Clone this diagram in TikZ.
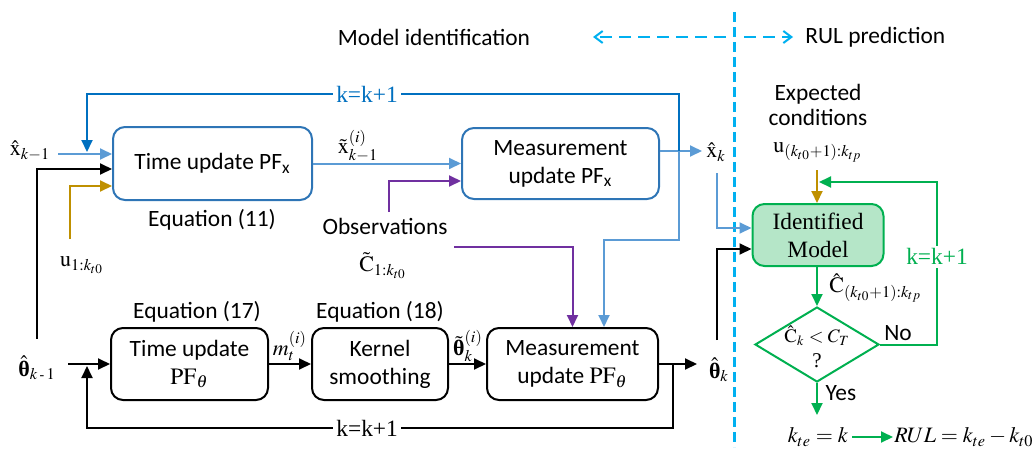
\documentclass[tikz,border=0pt]{standalone}
\usepackage{mathptmx}
\usepackage{fontspec}
\setmainfont{Liberation Serif}
\setsansfont{Carlito}
\usetikzlibrary{arrows.meta,shapes.geometric,calc}
\definecolor{cyanline}{RGB}{0,176,240}
\definecolor{dblue}{RGB}{0,112,192}
\definecolor{lblue}{RGB}{91,155,213}
\definecolor{boxblue}{RGB}{46,117,182}
\definecolor{gold}{RGB}{191,144,0}
\definecolor{obsviolet}{RGB}{112,48,160}
\definecolor{okgreen}{RGB}{0,176,80}
\definecolor{modelfill}{RGB}{181,230,200}
\newcommand{\bth}{\mbox{\normalfont\bfseries θ}}
\newcommand{\kmone}{k\mbox{\scriptsize\,-\,}1}

\begin{document}
\begin{tikzpicture}[x=0.5pt,y=-0.5pt,
  every node/.append style={inner sep=1pt},
  font=\fontsize{11.7}{14}\selectfont,
  sf/.style={font=\sffamily\fontsize{11.7}{14}\selectfont},
  ml/.style={font=\fontsize{11}{13}\selectfont, inner sep=0.5pt},
  box/.style={draw, line width=1pt, rounded corners=6pt, align=center, inner sep=0pt, sf},
  arr/.style={-{Triangle[length=6pt,width=5.5pt]}, line width=1pt},
  barb/.style={cyanline, line width=1pt, dash pattern=on 6pt off 3.5pt,
               -{Straight Barb[length=4pt,width=6pt]}},
  gap/.style={fill=white, inner sep=1.5pt},
]
\useasboundingbox (0,0) rectangle (1035,450);

% divider between the two stages
\draw[cyanline, line width=1.5pt, dash pattern=on 5pt off 2.5pt] (734,12) -- (734,447);

% stage titles
\node[sf] (mid) at (434,37) {Model identification};
\node[sf, anchor=west] (rulp) at (803,37) {RUL prediction};
\coordinate (dL0) at (726,37); \coordinate (dL1) at (593,37);
\coordinate (dR0) at (744,37); \coordinate (dR1) at (793,37);
\draw[barb] (dL0) -- (dL1);
\draw[barb] (dR0) -- (dR1);

% ---- state filter (top row)
\node[box, draw=boxblue, minimum width=99.5pt, minimum height=36.5pt] (tpx) at (212.5,163.5) {Time update PF\textsubscript{x}};
\node[box, draw=boxblue, minimum width=98.5pt, minimum height=35.5pt] (mpx) at (560.5,163.5) {Measurement\\update PF\textsubscript{x}};
\node[sf] (eq11) at (212,220) {Equation (11)};

\node[ml] (xkm1) at (30,151) {$\hat{\mathrm{x}}_{k-1}$};
\node[ml] (u1) at (82,265) {$\mathrm{u}_{1:k_{t0}}$};
\node[ml] (xtil) at (358,146) {$\tilde{\mathrm{x}}^{(i)}_{k-1}$};
\node[sf] (obs) at (385,226) {Observations};
\node[ml] (ctil) at (383,266) {$\tilde{\mathrm{C}}_{1:k_{t0}}$};
\node[ml] (xk) at (716,152) {$\hat{\mathrm{x}}_{k}$};

% ---- parameter filter (bottom row)
\node[box, minimum width=78.5pt, minimum height=36pt] (tpt) at (189.5,364) {Time update\\$\mathrm{PF}_\theta$};
\node[box, minimum width=68pt, minimum height=36pt] (kern) at (380,364) {Kernel\\smoothing};
\node[box, minimum width=85.5pt, minimum height=36pt] (mpt) at (572.5,364) {Measurement\\update $\mathrm{PF}_\theta$};
\node[sf] (eq17) at (197,312) {Equation (17)};
\node[sf] (eq18) at (380,312) {Equation (18)};
\node[ml] (mt) at (290,346) {$m_t^{(i)}$};
\node[ml] (thtil) at (468,346) {$\tilde{\bth}_k^{(i)}$};
\node[ml] (thkm1) at (37,368) {$\hat{\bth}_{\kmone}$};
\node[ml] (thk) at (719,370) {$\hat{\bth}_{k}$};

% ---- prediction stage
\node[draw=okgreen, fill=modelfill, line width=1pt, rounded corners=6pt, align=center,
      inner sep=0pt, minimum width=65.5pt, minimum height=31pt,
      font=\fontsize{11.7}{14}\selectfont] (model) at (818,235) {Identified\\Model};
\node[sf, align=center, font=\sffamily\fontsize{11.7}{12.5}\selectfont] (exp) at (818,105) {Expected\\conditions};
\node[ml] (ufut) at (818,152) {$\mathrm{u}_{(k_{t0}+1):k_{tp}}$};
\node[ml, anchor=west] (cfut) at (828,288) {$\hat{\mathrm{C}}_{(k_{t0}+1):k_{tp}}$};
\node[diamond, draw=okgreen, line width=1pt, minimum width=62pt, minimum height=37.5pt, inner sep=0pt] (dia) at (817,344.5) {};
\node[font=\fontsize{9.5}{11}\selectfont, inner sep=0pt] (cond) at (817,336) {$\hat{\mathrm{C}}_k < C_T$};
\node[font=\fontsize{10.5}{12}\selectfont, inner sep=0pt] (qm) at (817,361) {?};
\node[sf] (no) at (898,333) {No};
\node[sf] (yes) at (841,393) {Yes};
\node[ml] (kte) at (818,437) {$k_{te}=k$};
\node[ml, anchor=west] (rul) at (893,437) {$RUL = k_{te} - k_{t0}$};

% ---- connectors, top row
\coordinate (xin) at (58,154);
\draw[arr, lblue] (xin) -- (xin -| tpx.west);
\draw[arr] ([yshift=8pt]thkm1.north) |- ([yshift=-2.75pt]tpx.west);
\coordinate (uin) at (70,239);
\draw[arr, gold] (uin) |- ([yshift=-11.25pt]tpx.west);
\draw[arr, lblue] (tpx) -- (mpx);
\coordinate (pobs) at (389,212);
\draw[arr, obsviolet] (pobs) |- ([yshift=-8.75pt]mpx.west);

\coordinate (br) at (679,151);
\coordinate (xktip) at (702,151);
\draw[arr, lblue] (mpx.east |- br) -- (xktip);
\coordinate (topR) at (679,94);
\coordinate (topL) at (87,94);
\draw[arr, dblue] (br) -- (topR) -- node[gap, pos=0.527, text=dblue] (kk1) {k=k+1} (topL) -- ([yshift=1pt]topL |- xin);
\coordinate (lbA) at (679,240);
\draw[arr, lblue] (br) -- (lbA) -| ([xshift=15.75pt]mpt.north);
\coordinate (pobs2) at (454,247);
\draw[arr, obsviolet] (pobs2) -| (mpt.north);

% ---- connectors, bottom row
\coordinate (thin) at (68,364);
\draw[arr] (thin) -- (tpt.west);
\draw[arr] (tpt) -- (kern);
\draw[arr] (kern) -- (mpt);
\coordinate (thtip) at (697,364);
\draw[arr] (mpt.east) -- (thtip);
\coordinate (bb) at (673,364);
\coordinate (botR) at (673,428);
\coordinate (botL) at (87,428);
\draw[arr] (bb) -- (botR) -- node[gap, pos=0.522] (kk2) {k=k+1} (botL) -- ([yshift=-1pt]botL |- thin);

% ---- connectors, prediction stage
\coordinate (xkd) at (717,173);
\draw[arr, lblue] (xkd) |- ([yshift=3.5pt]model.west);
\coordinate (thkup) at (717,340);
\draw[arr] (thkup) |- ([yshift=-7pt]model.west);
\coordinate (uup) at (817,170);
\draw[arr, gold] (uup) -- (uup |- model.north);
\draw[arr, okgreen] (model.south -| dia.north) -- (dia.north);
\coordinate (gR1) at (937,344.5);
\coordinate (gR2) at (937,182);
\coordinate (gTip) at (819,182);
\draw[arr, okgreen] (dia.east) -- (gR1) -- node[gap, pos=0.54, text=okgreen] (kk3) {k=k+1} (gR2) -- (gTip);
\coordinate (yend) at (817,415);
\draw[arr, okgreen] (dia.south) -- (yend);
\coordinate (ka0) at (852,437);
\draw[arr, okgreen] (ka0) -- (rul.west);
\end{tikzpicture}
\end{document}
